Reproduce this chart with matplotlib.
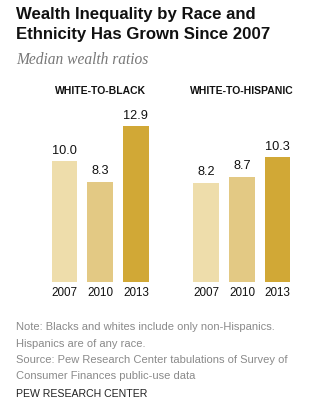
import matplotlib
matplotlib.use("Agg")
import matplotlib.pyplot as plt
from matplotlib import font_manager

years = ["2007", "2010", "2013"]
white_to_black = [10.0, 8.3, 12.9]
white_to_hispanic = [8.2, 8.7, 10.3]
panel_titles = ["WHITE-TO-BLACK", "WHITE-TO-HISPANIC"]
bar_colors = ["#EEDDAB", "#E3C984", "#D1A836"]

W, H = 333, 400
fig = plt.figure(figsize=(W / 100, H / 100), dpi=100)
fig.patch.set_facecolor("white")

names = {f.name for f in font_manager.fontManager.ttflist}
sans = "Liberation Sans"
narrow = "Liberation Sans Narrow" if "Liberation Sans Narrow" in names else "Liberation Sans"
serif = "Liberation Serif"


def fx(px):
    return px / W


def fy(py):
    return 1 - py / H


# Title and subtitle
fig.text(fx(16), fy(19.5), "Wealth Inequality by Race and", family=sans,
         weight="bold", size=12.1, color="#111111", va="baseline")
fig.text(fx(16), fy(39.5), "Ethnicity Has Grown Since 2007", family=sans,
         weight="bold", size=12.1, color="#111111", va="baseline")
fig.text(fx(16), fy(64), "Median wealth ratios", family=serif,
         style="italic", size=11.2, color="#777777", va="baseline")

# Two bar panels
unit = 35.7
baseline_px = 281.7
px_per_val = 12.07
ymax = 14
panel_centers = [64.5, 206.2]
for first_center, values, title in zip(panel_centers, [white_to_black, white_to_hispanic], panel_titles):
    left = first_center - 0.7 * unit
    width = 3.4 * unit
    height = ymax * px_per_val
    ax = fig.add_axes([fx(left), (H - baseline_px) / H, width / W, height / H])
    xs = range(len(values))
    ax.bar(xs, values, width=0.72, color=bar_colors, edgecolor="none")
    for x, v in zip(xs, values):
        ax.annotate(f"{v:.1f}", (x, v), xytext=(0, 3.2), textcoords="offset points",
                    ha="center", va="bottom", family=sans, size=9.2, color="#111111")
    ax.set_xlim(-0.7, 2.7)
    ax.set_ylim(0, ymax)
    ax.set_xticks(list(xs))
    ax.set_xticklabels(years, family=sans, size=8.4, color="#111111")
    ax.tick_params(axis="x", length=0, pad=3.5)
    ax.set_yticks([])
    for s in ax.spines.values():
        s.set_visible(False)
    ax.patch.set_alpha(0)
    fig.text(fx(first_center + unit), fy(94.5), title, family=narrow, weight="bold",
             size=7.5, color="#111111", ha="center", va="baseline")

# Notes
notes = [
    "Note: Blacks and whites include only non-Hispanics.",
    "Hispanics are of any race.",
    "Source: Pew Research Center tabulations of Survey of",
    "Consumer Finances public-use data",
]
for i, line in enumerate(notes):
    fig.text(fx(16), fy(330.5 + i * 16.3), line, family=sans, size=8.0,
             color="#8A8A8A", va="baseline")
fig.text(fx(16), fy(397), "PEW RESEARCH CENTER", family=sans, size=7.6,
         color="#222222", va="baseline")

fig.savefig("out.png", dpi=100)
